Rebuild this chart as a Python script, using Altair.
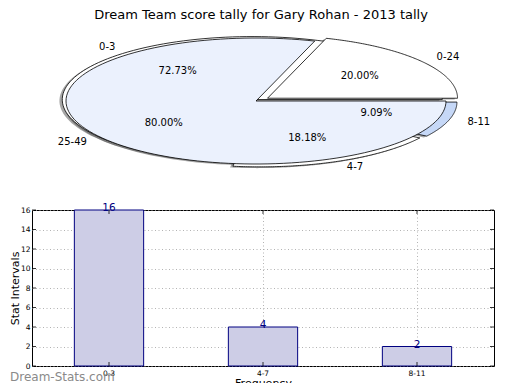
import altair as alt
import pandas as pd

title_text = "Dream Team score tally for Gary Rohan - 2013 tally"

# bar chart / inner pie data
intervals = ["0-3", "4-7", "8-11"]
frequencies = [16, 4, 2]
# second pie data
ranges = ["0-24", "25-49"]
range_shares = [20, 80]
y_ticks = [0, 2, 4, 6, 8, 10, 12, 14, 16]

# styling per slice
interval_explode = [0.03, 0.05, 0.06]
range_explode = [0.075, 0.0]
interval_fills = ["#ffffff", "#ffffff", "#c6d8f7"]
range_fills = ["#ffffff", "#ebf1fd"]

pie_df = pd.DataFrame({
    "pie": [2] * len(intervals) + [1] * len(ranges),
    "label": intervals + ranges,
    "value": frequencies + range_shares,
    "explode": interval_explode + range_explode,
    "fillc": interval_fills + range_fills,
    "idx": list(range(len(intervals))) + list(range(len(ranges))),
})

bar_df = pd.DataFrame({"interval": intervals, "freq": frequencies})
ytick_df = pd.DataFrame({"freq": y_ticks})

FONT = "DejaVu Sans"
BAR_W, BAR_H = 462, 156
TOP_W, TOP_H = BAR_W, 192
CX_PX, CY_PX, RX, RY = 224, 92, 190, 63
N = 120

xsc = alt.Scale(domain=[-CX_PX / RX, (TOP_W - CX_PX) / RX], nice=False, zero=False)
ysc = alt.Scale(domain=[-(TOP_H - CY_PX) / RY, CY_PX / RY], nice=False, zero=False)

base = (
    alt.Chart(pie_df)
    .transform_joinaggregate(total="sum(value)", groupby=["pie"])
    .transform_window(cum="sum(value)", groupby=["pie"], sort=[alt.SortField("idx")], frame=[None, 0])
    .transform_calculate(
        t0="2*PI*(datum.cum - datum.value)/datum.total",
        t1="2*PI*datum.cum/datum.total",
        pct="format(100*datum.value/datum.total, '.2f') + '%'",
        key="datum.pie + '_' + datum.label",
    )
    .transform_calculate(mid="(datum.t0 + datum.t1)/2")
    .transform_calculate(
        cx="datum.explode*cos(datum.mid)",
        cy="datum.explode*sin(datum.mid)",
    )
)

poly = (
    base.transform_calculate(k=f"sequence(0, {N + 2})")
    .transform_flatten(["k"])
    .transform_calculate(
        px=f"datum.k == 0 ? datum.cx : datum.cx + cos(datum.t0 + (datum.t1 - datum.t0)*(datum.k - 1)/{N})",
        py=f"datum.k == 0 ? datum.cy : datum.cy + sin(datum.t0 + (datum.t1 - datum.t0)*(datum.k - 1)/{N})",
    )
    .transform_calculate(sx="datum.px - 0.015", sy="datum.py - 0.02")
)

shadow = poly.mark_line(interpolate="linear-closed", strokeOpacity=0, fill="#4d4d4d", fillOpacity=0.5).encode(
    x=alt.X("sx:Q", scale=xsc, axis=None),
    y=alt.Y("sy:Q", scale=ysc, axis=None),
    detail="key:N",
    order="k:Q",
)


def wedges(p):
    return poly.transform_filter(f"datum.pie == {p}").mark_line(
        interpolate="linear-closed", stroke="black", strokeWidth=0.8, strokeJoin="round"
    ).encode(
        x=alt.X("px:Q", scale=xsc, axis=None),
        y=alt.Y("py:Q", scale=ysc, axis=None),
        detail="key:N",
        order="k:Q",
        fill=alt.Fill("fillc:N", scale=None),
    )


labpos = base.transform_calculate(
    lx="datum.cx + 1.1*cos(datum.mid)",
    ly="datum.cy + 1.1*sin(datum.mid)",
    qx="datum.cx + 0.6*cos(datum.mid)",
    qy="datum.cy + 0.6*sin(datum.mid)",
)

LBL = dict(baseline="middle", fontSize=10, font=FONT, color="black")
lab_right = labpos.transform_filter("cos(datum.mid) > 0").mark_text(align="left", **LBL).encode(
    x=alt.X("lx:Q", scale=xsc, axis=None), y=alt.Y("ly:Q", scale=ysc, axis=None), text="label:N"
)
lab_left = labpos.transform_filter("cos(datum.mid) <= 0").mark_text(align="right", **LBL).encode(
    x=alt.X("lx:Q", scale=xsc, axis=None), y=alt.Y("ly:Q", scale=ysc, axis=None), text="label:N"
)
pct = labpos.mark_text(align="center", **LBL).encode(
    x=alt.X("qx:Q", scale=xsc, axis=None), y=alt.Y("qy:Q", scale=ysc, axis=None), text="pct:N"
)

title = alt.Chart(pd.DataFrame({"t": [title_text]})).mark_text(
    align="center", baseline="top", fontSize=13, font=FONT, color="black"
).encode(x=alt.value(CX_PX + 5), y=alt.value(0), text="t:N")

top = alt.layer(shadow, wedges(2), wedges(1), lab_right, lab_left, pct, title).properties(
    width=TOP_W, height=TOP_H, view=alt.ViewBackground(stroke="transparent")
)

# ---- bar chart ----
GRID = dict(grid=True, gridDash=[1, 2.5], gridColor="#a0a0a0", gridWidth=0.8)
xaxis = alt.Axis(
    title="Frequency", labelAngle=0, labelFontSize=7.5, titleFontSize=11, ticks=False, tickSize=0,
    domain=False, labelPadding=3, titleBaseline="top", titleY=11, labelColor="black",
    titleColor="black", labelFont=FONT, titleFont=FONT, titleFontWeight="normal", **GRID,
)
yaxis = alt.Axis(
    title="Stat Intervals", values=y_ticks, labelFontSize=7.5, titleFontSize=11, ticks=False,
    tickSize=0, domain=False, labelPadding=2, titlePadding=1, minExtent=11, maxExtent=11,
    labelOverlap=False, labelColor="black", titleColor="black", labelFont=FONT, titleFont=FONT,
    titleFontWeight="normal", **GRID,
)
xscale = alt.Scale(paddingInner=0.55, paddingOuter=0.275)
yscale = alt.Scale(domain=[0, 16], nice=False)


def X():
    return alt.X("interval:N", sort=intervals, scale=xscale, axis=xaxis)


def Y():
    return alt.Y("freq:Q", scale=yscale, axis=yaxis)


bars = alt.Chart(bar_df).mark_bar(fill="#cdcde6", stroke="#000080", strokeWidth=1).encode(x=X(), y=Y())
vals = alt.Chart(bar_df).mark_text(baseline="alphabetic", dy=1, fontSize=10.5, font=FONT, color="#000080").encode(
    x=X(), y=Y(), text="freq:Q"
)
lticks = alt.Chart(ytick_df).mark_rule(color="black", strokeWidth=0.8).encode(
    x=alt.value(0), x2=alt.value(4), y=Y()
)
rticks = alt.Chart(ytick_df).mark_rule(color="black", strokeWidth=0.8).encode(
    x=alt.value(BAR_W - 4), x2=alt.value(BAR_W), y=Y()
)
bticks = alt.Chart(bar_df).mark_rule(color="black", strokeWidth=0.8).encode(
    x=X(), y=alt.value(BAR_H - 4), y2=alt.value(BAR_H)
)
tticks = alt.Chart(bar_df).mark_rule(color="black", strokeWidth=0.8).encode(
    x=X(), y=alt.value(0), y2=alt.value(4)
)
watermark = alt.Chart(pd.DataFrame({"w": ["Dream-Stats.com"]})).mark_text(
    align="left", baseline="middle", fontSize=12, font=FONT, color="#8a8a8a"
).encode(x=alt.value(-22), y=alt.value(BAR_H + 11), text="w:N")

bottom = alt.layer(watermark, bars, lticks, rticks, bticks, tticks, vals).properties(
    width=BAR_W, height=BAR_H, view=alt.ViewBackground(stroke="black", strokeWidth=1)
)

chart = (
    alt.vconcat(top, bottom, spacing=0)
    .properties(padding={"left": 0, "top": 0, "right": 0, "bottom": -6})
    .configure(font=FONT)
)

chart.save("out.html", embed_options={"renderer": "svg", "actions": False})
